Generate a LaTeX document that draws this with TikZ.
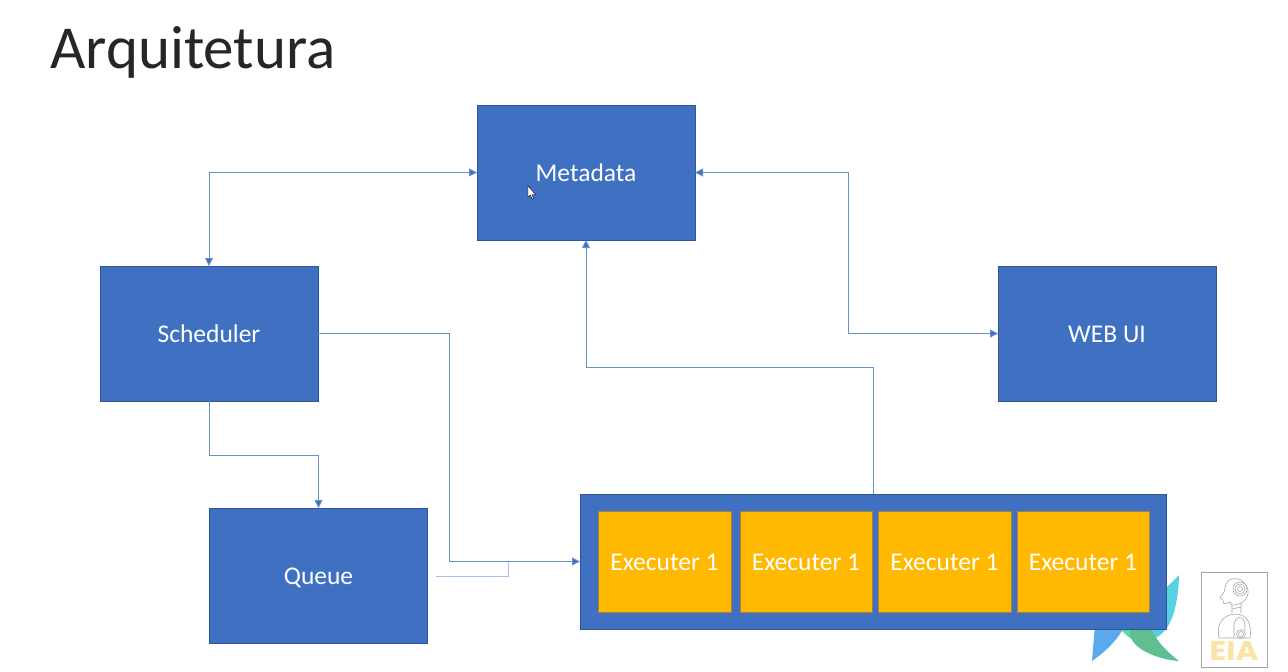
\documentclass[tikz,border=0pt]{standalone}
\usepackage{fontspec}
\setmainfont{Carlito}
\newfontfamily\eiafont{Poppins}
\usetikzlibrary{arrows.meta,calc}
\definecolor{boxblue}{HTML}{4070C2}
\definecolor{boxedge}{HTML}{2F5597}
\definecolor{execfill}{HTML}{FFB900}
\definecolor{execedge}{HTML}{A6813A}
\definecolor{linkblue}{HTML}{6A8FCB}
\definecolor{paleblue}{HTML}{A9BFE3}
\definecolor{eiayellow}{HTML}{FBE3A6}
\definecolor{leafcyan}{HTML}{55D2E2}
\definecolor{leafblue}{HTML}{5AA9EE}
\definecolor{leafgreen}{HTML}{5FBF90}
\definecolor{leafmint}{HTML}{5CD8A0}
\tikzset{
  x=1pt,y=-1pt,
  bluebox/.style={draw=boxedge,line width=1pt,outer sep=0pt,fill=boxblue,text=white,font=\fontsize{25.5}{26}\selectfont,text height=20pt,text depth=2pt,minimum width=218pt,minimum height=135pt,inner sep=0pt,anchor=north west},
  execbox/.style={draw=execedge,line width=1pt,outer sep=0pt,fill=execfill,text=white,font=\fontsize{25.5}{26}\selectfont,text height=20pt,text depth=2pt,minimum height=101pt,inner sep=0pt,anchor=north west},
  link/.style={draw=linkblue,line width=0.9pt},
  tip/.style={-{Triangle[length=8pt,width=8pt,fill=boxblue]}},
  twotip/.style={{Triangle[length=8pt,width=8pt,fill=boxblue]}-{Triangle[length=8pt,width=8pt,fill=boxblue]}},
  robot/.style={draw=gray!70,line width=0.6pt,fill=none}
}
\begin{document}
\begin{tikzpicture}
\useasboundingbox (0,0) rectangle (1288,672);
\fill[white] (0,0) rectangle (1288,672);
\node[anchor=west,inner sep=0pt,font=\fontsize{61}{61}\selectfont,text=black!85] (title) at (50,52) {Arquitetura};
% leaves behind the executor box
\fill[leafcyan] (1179,575) .. controls (1178,610) and (1170,635) .. (1150,640) -- (1125,625) .. controls (1145,605) and (1165,590) .. (1179,575) -- cycle;
\fill[leafblue] (1092,661) -- (1095,625) -- (1125,625) .. controls (1118,640) and (1105,652) .. (1092,661) -- cycle;
\fill[leafmint] (1117,625) -- (1150,625) -- (1152,645) .. controls (1135,645) and (1125,635) .. (1117,625) -- cycle;
\fill[leafgreen] (1179,661) .. controls (1160,660) and (1133,650) .. (1130,635) -- (1130,625) -- (1150,625) .. controls (1155,640) and (1165,650) .. (1179,661) -- cycle;
% boxes
\node[bluebox] (meta) at (477,105) {Metadata};
\node[bluebox] (sched) at (100,266) {Scheduler};
\node[bluebox] (webui) at (998,266) {WEB UI};
\node[bluebox] (queue) at (209.5,508) {Queue};
\node[bluebox,minimum width=586pt] (pool) at (580,494) {};
\node[execbox,minimum width=133pt] (e1) at (598,511) {Executer 1};
\node[execbox,minimum width=132pt] (e2) at (740,511) {Executer 1};
\node[execbox,minimum width=133pt] (e3) at (878,511) {Executer 1};
\node[execbox,minimum width=132pt] (e4) at (1017,511) {Executer 1};
% connectors
\coordinate (qfree) at (436,576);
\coordinate (pooljoin) at (508,561.5);
\coordinate (a1) at (848,0);
\coordinate (a2) at (0,367);
\coordinate (a3) at (449,0);
\coordinate (a4) at (0,455);
\draw[link,twotip] (meta.west) -| (sched.north);
\draw[link,twotip] (meta.east) -- (a1 |- meta.east) -- (a1 |- webui.west) -- (webui.west);
\draw[link,tip] (pool.north) -- (pool.north |- a2) -- (meta.south |- a2) -- (meta.south);
\draw[link,tip] (sched.east) -- (a3 |- sched.east) -- (a3 |- pool.west) -- (pool.west);
\draw[link,tip] (sched.south) -- (sched.south |- a4) -- (queue.north |- a4) -- (queue.north);
\draw[draw=paleblue,line width=1pt] (qfree) -| (pooljoin);
% mouse cursor
\draw[black,fill=white,line width=0.4pt] (528,186) -- (528,197) -- (530.5,195) -- (532,199) -- (533.5,198.5) -- (532,194.5) -- (535.5,194.5) -- cycle;
% logo
\node[draw=gray!70,line width=1pt,minimum width=66pt,minimum height=95pt,inner sep=0pt,outer sep=0pt,anchor=north west] (logo) at (1201,572) {};
\draw[robot] (1232,579) .. controls (1226,579) and (1225,588) .. (1224,592) -- (1220,598) -- (1223,600) .. controls (1223,606) and (1226,603) .. (1230,602) -- (1232,605) .. controls (1243,605) and (1249,598) .. (1248,590) .. controls (1247,583) and (1240,577) .. (1232,579) -- cycle;
\draw[robot] (1240,589) circle (2.5pt) (1240,589) circle (5pt) (1240,589) circle (7pt);
\draw[robot] (1232,605) -- (1232,613) (1241,603) -- (1241,613) (1232,609) -- (1241,607);
\draw[robot] (1219,638) .. controls (1216,625) and (1222,615) .. (1235,614) .. controls (1248,614) and (1252,625) .. (1250,638) -- cycle;
\draw[robot] (1234,638) -- (1234,625) .. controls (1235,615) and (1244,615) .. (1245,625) -- (1245,630);
\draw[robot] (1241,634) circle (4.5pt) (1241,634) circle (2.5pt);
\node[inner sep=0pt,text=eiayellow,font=\eiafont\bfseries\fontsize{27}{27}\selectfont,xscale=1.15,anchor=center] (eia) at (1234,651) {EIA};
\end{tikzpicture}
\end{document}
